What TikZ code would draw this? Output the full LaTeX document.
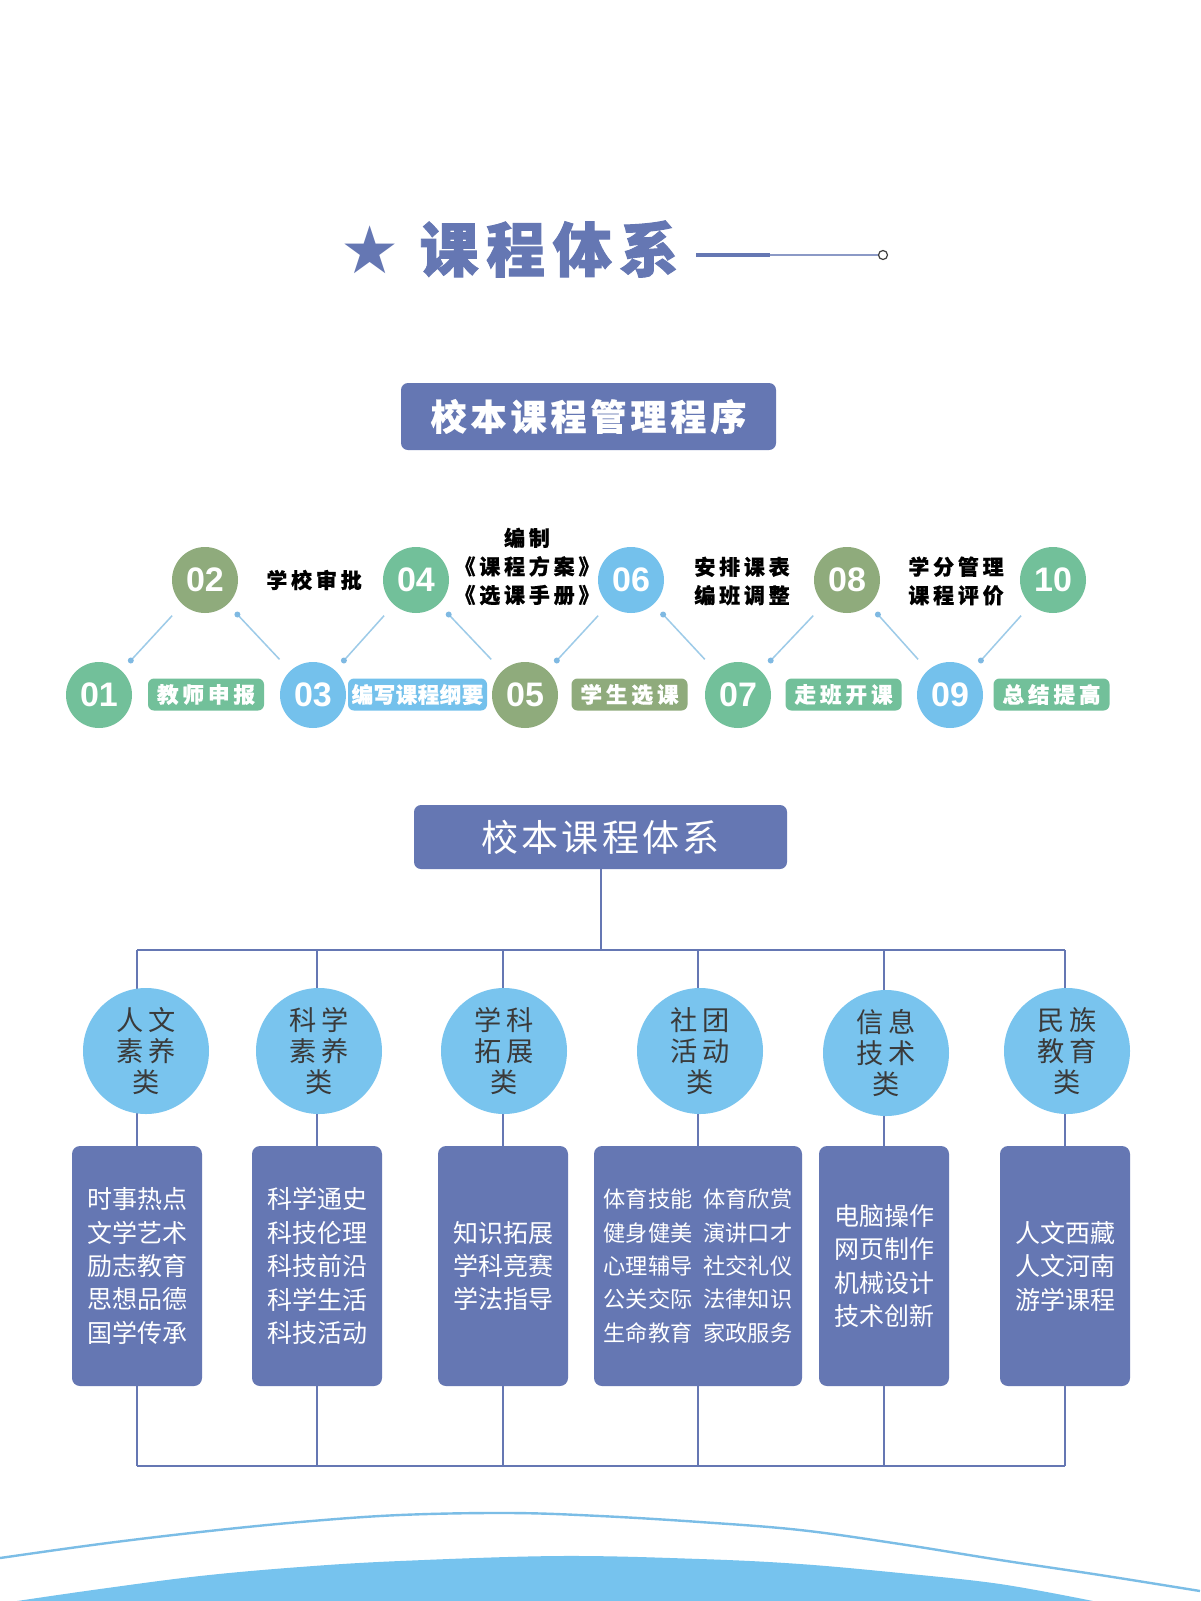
\documentclass[tikz,border=0pt]{standalone}
\usepackage{fontspec}
\setmainfont{Liberation Sans}
\newfontfamily\cjk{Noto Sans CJK SC}
\newfontfamily\cjkA[LetterSpace=18, BoldFeatures={FakeBold=0.6}]{Noto Sans CJK SC}
\newfontfamily\cjkB[LetterSpace=2, BoldFeatures={FakeBold=0.6}]{Noto Sans CJK SC}
\newfontfamily\cjkT[LetterSpace=13, BoldFeatures={FakeBold=1.6}]{Noto Sans CJK SC}
\newfontfamily\cjkC[LetterSpace=20]{Noto Sans CJK SC}
\newfontfamily\cjkD[LetterSpace=9]{Noto Sans CJK SC}
\newfontfamily\cjkE[LetterSpace=11, BoldFeatures={FakeBold=0.6}]{Noto Sans CJK SC}
\newfontfamily\dejavu{DejaVu Sans}
\newfontfamily\digitsfont{Liberation Sans}
\usetikzlibrary{calc}
\definecolor{slate}{HTML}{6577B3}
\definecolor{cTeal}{HTML}{72C09A}
\definecolor{cOlive}{HTML}{8FAB7C}
\definecolor{cBlue}{HTML}{74C1EC}
\definecolor{cCat}{HTML}{79C4EE}
\definecolor{cLink}{HTML}{9DCBE8}
\definecolor{cDot}{HTML}{7FB9E2}
\definecolor{cWave}{HTML}{76C3EE}
\definecolor{cWaveLine}{HTML}{7BBDE6}
\definecolor{cGrayText}{HTML}{3A3A3A}
\pgfdeclarelayer{paper}
\pgfdeclarelayer{bg}
\pgfsetlayers{paper,bg,main}
\begin{document}
\begin{tikzpicture}[x=0.5pt,y=-0.5pt,
  tbox/.style={fill=slate, rounded corners=3.5pt, text=white, inner sep=0pt},
  pc/.style={circle, minimum size=33pt, inner sep=0pt, text=white,
    font=\digitsfont\bfseries\fontsize{17pt}{17pt}\selectfont},
  lab/.style={rounded corners=3pt, minimum height=16pt, minimum width=58pt, inner sep=0pt,
    text=white, font=\cjkA\bfseries\fontsize{10.8pt}{10.8pt}\selectfont},
  blk/.style={align=center, inner sep=0pt, text=black,
    font=\cjkA\bfseries\fontsize{10.5pt}{14.25pt}\selectfont},
  link/.style={cLink, line width=0.75pt},
  dot/.style={circle, fill=cDot, inner sep=0pt, minimum size=3pt},
  cat/.style={circle, fill=cCat, minimum size=63pt, inner sep=0pt, align=center,
    text=cGrayText, font=\cjkC\fontsize{13.6pt}{15.5pt}\selectfont},
  item/.style={fill=slate, rounded corners=4pt, minimum width=65pt, minimum height=120pt,
    inner sep=0pt, align=center, text=white, font=\cjk\fontsize{12.5pt}{16.7pt}\selectfont},
  tree/.style={slate, line width=1pt}
]
\begin{pgfonlayer}{paper}
\fill[white] (0,0) rectangle (1200,1601);
\end{pgfonlayer}
\useasboundingbox (0,0) rectangle (1200,1601);

% ---------- heading ----------
\node[font=\dejavu\fontsize{33pt}{33pt}\selectfont, text=slate, inner sep=0pt] (star) at (370,250) {★};
\node[font=\cjkT\bfseries\fontsize{29.5pt}{29.5pt}\selectfont, text=slate, inner sep=0pt] (ttl) at (549,249) {课程体系};
\coordinate (l1) at (696,255);
\coordinate (l2) at (770,255);
\node[circle, draw=darkgray, fill=white, line width=0.6pt, minimum size=4.5pt, inner sep=0pt] (lend) at (883,255) {};
\draw[slate, line width=2pt] (l1) -- (l2);
\draw[slate!75, line width=0.6pt] (l2) -- (lend.west);

% ---------- process ----------
\node[tbox, minimum width=187.5pt, minimum height=33.5pt,
  font=\cjkE\bfseries\fontsize{18pt}{18pt}\selectfont] (proc) at (588.5,416.5) {校本课程管理程序};

\node[pc, fill=cTeal]  (o1) at (99,695)   {01};
\node[pc, fill=cOlive] (e1) at (205,580)  {02};
\node[pc, fill=cBlue]  (o2) at (313,695)  {03};
\node[pc, fill=cTeal]  (e2) at (416,580)  {04};
\node[pc, fill=cOlive] (o3) at (525,695)  {05};
\node[pc, fill=cBlue]  (e3) at (631,580)  {06};
\node[pc, fill=cTeal]  (o4) at (738,695)  {07};
\node[pc, fill=cOlive] (e4) at (847,580)  {08};
\node[pc, fill=cBlue]  (o5) at (950,695)  {09};
\node[pc, fill=cTeal]  (e5) at (1053,580) {10};

\node[lab, fill=cTeal]  (lab1) at (206,694.5)  {教师申报};
\node[lab, fill=cBlue, minimum width=69.5pt,
  font=\cjkB\bfseries\fontsize{10.8pt}{10.8pt}\selectfont] (lab2) at (417.5,694.5) {编写课程纲要};
\node[lab, fill=cOlive] (lab3) at (629.5,694.5) {学生选课};
\node[lab, fill=cTeal]  (lab4) at (843.5,694.5) {走班开课};
\node[lab, fill=cTeal]  (lab5) at (1051.5,694.5) {总结提高};

\node[blk] (t1) at (314,580) {学校审批};
\node[blk] (t2) at (527,566.5) {编制\\《课程方案》\\《选课手册》};
\node[blk] (t3) at (742,581) {安排课表\\编班调整};
\node[blk] (t4) at (956,581) {学分管理\\课程评价};

\foreach \a/\b in {o1/e1,o2/e2,o3/e3,o4/e4,o5/e5,e1/o2,e2/o3,e3/o4,e4/o5}{
  \draw[link] ($(\a)!0.3!(\b)$) -- ($(\a)!0.69!(\b)$);
}
\foreach \a/\b [count=\i] in {o1/e1,o2/e2,o3/e3,o4/e4,o5/e5,e1/o2,e2/o3,e3/o4,e4/o5}{
  \node[dot] (d\i) at ($(\a)!0.3!(\b)$) {};
}

% ---------- system tree ----------
\node[tbox, minimum width=186.5pt, minimum height=32pt,
  font=\cjkD\fontsize{18.5pt}{18.5pt}\selectfont] (sys) at (600.5,837) {校本课程体系};

\coordinate (t1c) at (137,950);
\coordinate (t2c) at (317,950);
\coordinate (t3c) at (503,950);
\coordinate (t4c) at (698,950);
\coordinate (t5c) at (884,950);
\coordinate (t6c) at (1065,950);
\coordinate (u1) at (137,1466);
\coordinate (u2) at (317,1466);
\coordinate (u3) at (503,1466);
\coordinate (u4) at (698,1466);
\coordinate (u5) at (884,1466);
\coordinate (u6) at (1065,1466);

\node[cat] (c1) at (146,1051) {人文\\素养\\类};
\node[cat] (c2) at (319,1051) {科学\\素养\\类};
\node[cat] (c3) at (504,1051) {学科\\拓展\\类};
\node[cat] (c4) at (700,1051) {社团\\活动\\类};
\node[cat] (c5) at (886,1053) {信息\\技术\\类};
\node[cat] (c6) at (1067,1051) {民族\\教育\\类};

\node[item] (b1) at (137,1266) {时事热点\\文学艺术\\励志教育\\思想品德\\国学传承};
\node[item] (b2) at (317,1266) {科学通史\\科技伦理\\科技前沿\\科学生活\\科技活动};
\node[item] (b3) at (503,1266) {知识拓展\\学科竞赛\\学法指导};
\node[item, minimum width=104pt, font=\cjk\fontsize{11.1pt}{16.7pt}\selectfont] (b4) at (698,1266) {体育技能\hspace{5.5pt}体育欣赏\\健身健美\hspace{5.5pt}演讲口才\\心理辅导\hspace{5.5pt}社交礼仪\\公关交际\hspace{5.5pt}法律知识\\生命教育\hspace{5.5pt}家政服务};
\node[item] (b5) at (884,1266) {电脑操作\\网页制作\\机械设计\\技术创新};
\node[item] (b6) at (1065,1266) {人文西藏\\人文河南\\游学课程};

\begin{pgfonlayer}{bg}
  \draw[tree] (sys.south) -- (sys.south |- t1c);
  \draw[tree] (t1c) -- (t6c);
  \foreach \i in {1,...,6}{
    \draw[tree] (t\i c) -- (b\i.north);
    \draw[tree] (b\i.south) -- (u\i);
  }
  \draw[tree] (u1) -- (u6);
\end{pgfonlayer}

% ---------- bottom wave ----------
\fill[cWave] plot[smooth, tension=0.6] coordinates {(17,1601) (100,1589) (200,1576) (300,1567) (400,1561) (560,1556) (700,1559) (800,1564) (900,1573) (1000,1584) (1093,1601)} -- cycle;
\draw[cWaveLine, line width=1.2pt] plot[smooth, tension=0.6] coordinates {(0,1558) (100,1544) (200,1532) (300,1522) (400,1515) (510,1513) (600,1516) (700,1522) (800,1530) (900,1544) (1000,1560) (1100,1575) (1200,1591)};
\end{tikzpicture}
\end{document}
